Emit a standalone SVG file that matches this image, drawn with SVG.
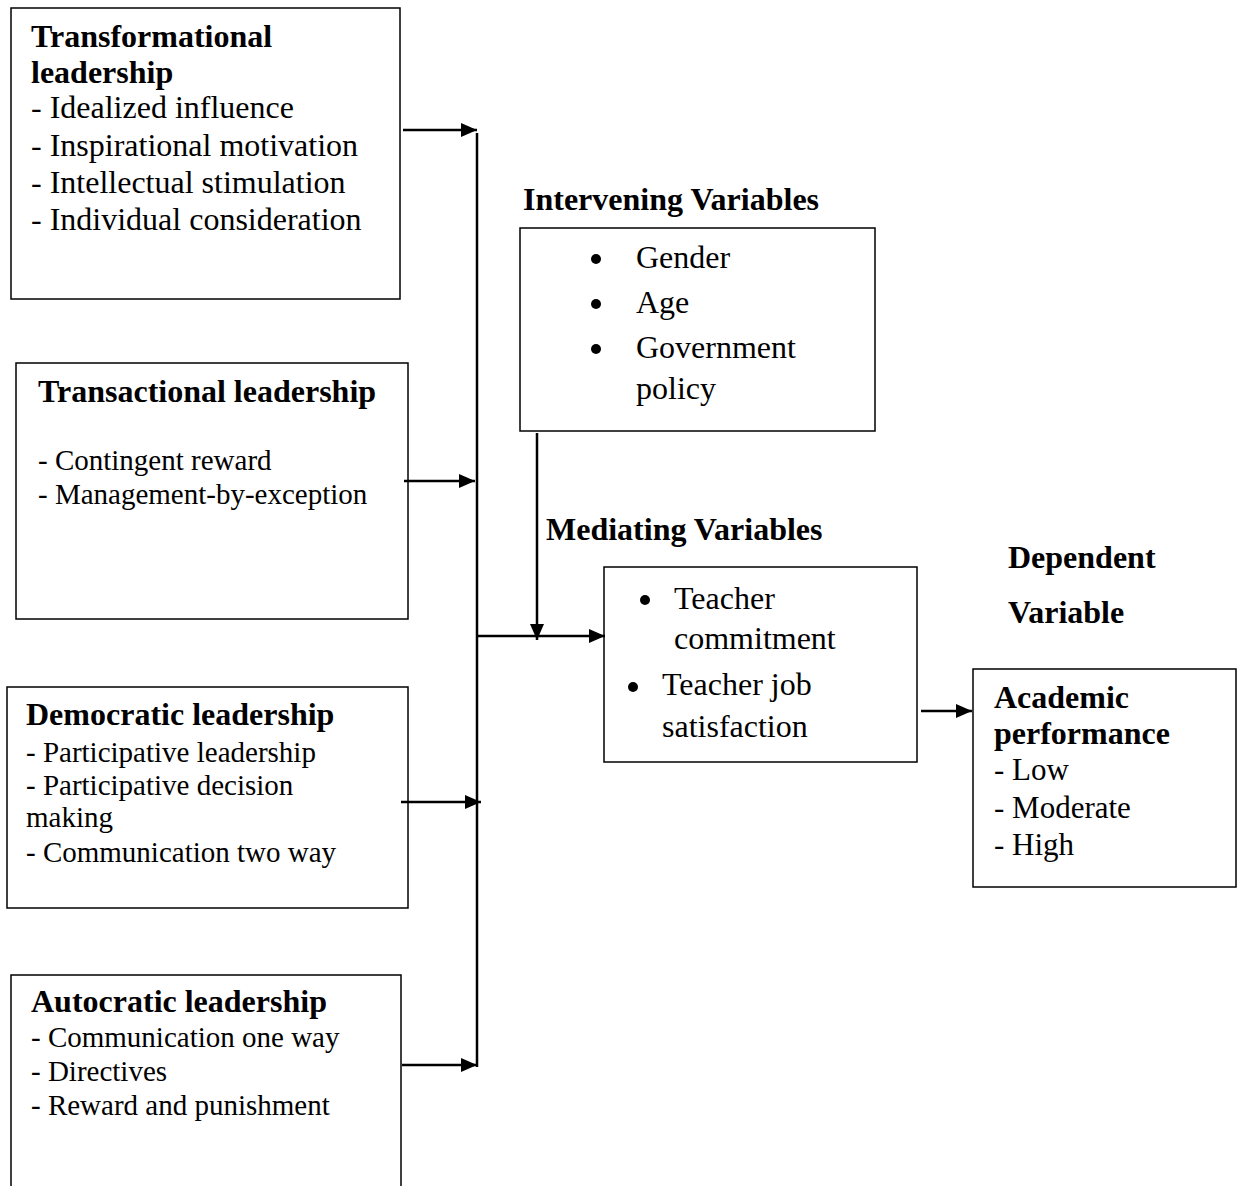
<svg xmlns="http://www.w3.org/2000/svg" width="1243" height="1186" viewBox="0 0 1243 1186">
<style>
.box{fill:#fff;stroke:#000;stroke-width:1.5}
text{font-family:"Liberation Serif","Times New Roman",serif;fill:#000}
.t{font-size:32px;font-weight:bold}
.b{font-size:32px}
.s{font-size:29px}
.c{stroke:#000;stroke-width:2.5;fill:none}
</style>
<defs>
<marker id="ah" markerUnits="userSpaceOnUse" markerWidth="18" markerHeight="14" refX="16" refY="7" orient="auto">
<path d="M0,0 L16,7 L0,14 Z" fill="#000"/>
</marker>
</defs>
<rect width="1243" height="1186" fill="#fff"/>
<g id="transformational">
<rect class="box" x="11" y="8" width="389" height="291"/>
<text class="t" x="31" y="47">Transformational</text>
<text class="t" x="31" y="83">leadership</text>
<text class="b" x="31" y="118">- Idealized influence</text>
<text class="b" x="31" y="156">- Inspirational motivation</text>
<text class="b" x="31" y="193">- Intellectual stimulation</text>
<text class="b" x="31" y="230">- Individual consideration</text>
</g>
<g id="transactional">
<rect class="box" x="16" y="363" width="392" height="256"/>
<text class="t" x="38" y="402">Transactional leadership</text>
<text class="s" x="38" y="470">- Contingent reward</text>
<text class="s" x="38" y="504">- Management-by-exception</text>
</g>
<g id="democratic">
<rect class="box" x="7" y="687" width="401" height="221"/>
<text class="t" x="26" y="725">Democratic leadership</text>
<text class="s" x="26" y="762">- Participative leadership</text>
<text class="s" x="26" y="795">- Participative decision</text>
<text class="s" x="26" y="827">making</text>
<text class="s" x="26" y="862">- Communication two way</text>
</g>
<g id="autocratic">
<rect class="box" x="11" y="975" width="390" height="220"/>
<text class="t" x="31" y="1012">Autocratic leadership</text>
<text class="s" x="31" y="1047">- Communication one way</text>
<text class="s" x="31" y="1081">- Directives</text>
<text class="s" x="31" y="1115">- Reward and punishment</text>
</g>
<g id="intervening">
<text class="t" x="523" y="210">Intervening Variables</text>
<rect class="box" x="520" y="228" width="355" height="203"/>
<circle cx="596" cy="259" r="5"/>
<circle cx="596" cy="304" r="5"/>
<circle cx="596" cy="349" r="5"/>
<text class="b" x="636" y="268">Gender</text>
<text class="b" x="636" y="313">Age</text>
<text class="b" x="636" y="358">Government</text>
<text class="b" x="636" y="399">policy</text>
</g>
<g id="mediating">
<text class="t" x="546" y="540">Mediating Variables</text>
<rect class="box" x="604" y="567" width="313" height="195"/>
<circle cx="645" cy="600" r="5"/>
<circle cx="633" cy="687" r="5"/>
<text class="b" x="674" y="609">Teacher</text>
<text class="b" x="674" y="649">commitment</text>
<text class="b" x="662" y="695">Teacher job</text>
<text class="b" x="662" y="737">satisfaction</text>
</g>
<g id="dependent">
<text class="t" x="1008" y="568">Dependent</text>
<text class="t" x="1008" y="623">Variable</text>
<rect class="box" x="973" y="669" width="263" height="218"/>
<text class="t" x="994" y="708">Academic</text>
<text class="t" x="994" y="744">performance</text>
<text class="b" x="994" y="780" style="font-size:31px">- Low</text>
<text class="b" x="994" y="818" style="font-size:31px">- Moderate</text>
<text class="b" x="994" y="855" style="font-size:31px">- High</text>
</g>
<g id="connectors">
<line class="c" x1="477" y1="133" x2="477" y2="1067"/>
<line class="c" x1="403" y1="130" x2="477" y2="130" marker-end="url(#ah)"/>
<line class="c" x1="404" y1="481" x2="475" y2="481" marker-end="url(#ah)"/>
<line class="c" x1="401" y1="802" x2="481" y2="802" marker-end="url(#ah)"/>
<line class="c" x1="402" y1="1065" x2="477" y2="1065" marker-end="url(#ah)"/>
<line class="c" x1="477" y1="636" x2="605" y2="636" marker-end="url(#ah)"/>
<line class="c" x1="537" y1="433" x2="537" y2="640" marker-end="url(#ah)"/>
<line class="c" x1="921" y1="711" x2="972" y2="711" marker-end="url(#ah)"/>
</g>
</svg>
